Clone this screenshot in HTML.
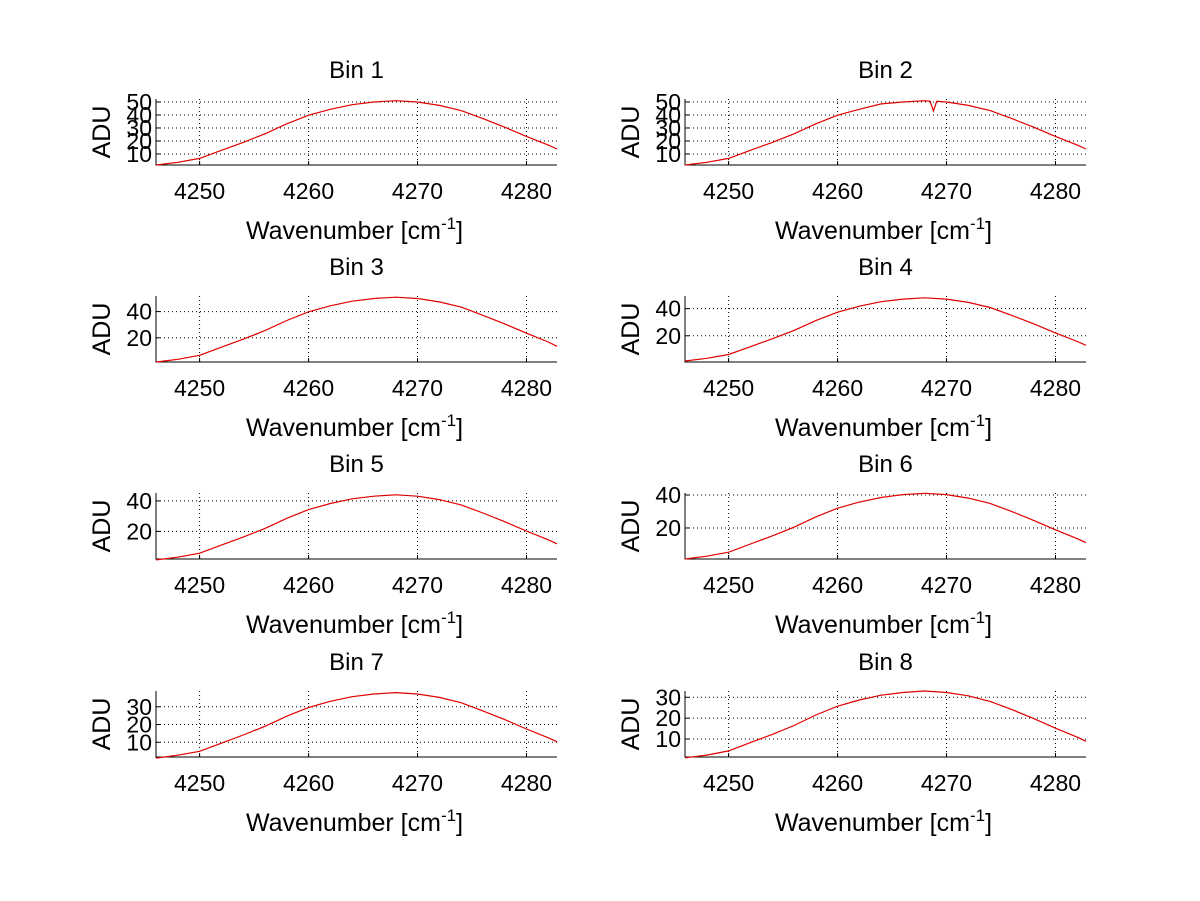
<!DOCTYPE html>
<html><head><meta charset="utf-8"><style>
body{margin:0;background:#fff}
svg{display:block;font-family:"Liberation Sans",sans-serif}
</style></head><body>
<svg id="fig" width="1200" height="901" viewBox="0 0 1200 901"></svg>
<script>
const xs=[4246,4248,4250,4252,4254,4256,4258,4260,4262,4264,4266,4268,4270,4272,4274,4276,4278,4280,4282,4282.8];
const xsBin2=[4246,4248,4250,4252,4254,4256,4258,4260,4262,4264,4266,4268,4268.5,4268.8,4269.1,4270,4272,4274,4276,4278,4280,4282,4282.8];
const bin1=[1.5,3.6,6.6,12.8,18.9,25.5,33.2,39.8,44.4,47.9,50,51,50,47.4,43.4,37.2,30.6,23.5,16.8,13.8];
const bin2=[1.5,3.6,6.6,12.8,18.9,25.5,33.2,39.8,44.4,48.5,50,51,50.5,43,50.5,50,47.4,43.4,37.2,30.6,23.5,16.8,13.8];
const bin3=[1.5,3.6,6.6,12.8,18.9,25.5,33.2,39.8,44.4,47.9,50,51,50,47.4,43.4,37.2,30.6,23.5,16.8,13.5];
const bin4=[1.4,3.4,6.2,12,17.8,24,31.2,37.4,41.8,45.1,47,48,47,44.6,40.8,35,28.8,22.1,15.8,13];
const bin5=[1.3,3.1,5.7,11,16.3,22,28.6,34.3,38.3,41.4,43.1,44,43.1,40.9,37.4,32.1,26.4,20.2,14.5,11.9];
const bin6=[1.2,2.9,5.3,10.3,15.2,20.5,26.7,32,35.7,38.5,40.2,41,40.2,38.1,34.9,29.9,24.6,18.9,13.5,11.1];
const bin7=[1.1,2.7,4.9,9.5,14.1,19,24.7,29.6,33.1,35.7,37.2,38,37.2,35.3,32.3,27.7,22.8,17.5,12.5,10.3];
const bin8=[1,2.3,4.3,8.3,12.2,16.5,21.5,25.7,28.7,31,32.3,33,32.3,30.7,28,24.1,19.8,15.2,10.9,8.9];
const xTicks=[4250,4260,4270,4280];
const yTicks50=[10,20,30,40,50];
const yTicks40=[20,40];
const yTicks30=[10,20,30];
const yRanges=[[1.5,52.3],[1.5,52.3],[1.5,51.9],[0.7,49.3],[1.9,45.2],[1.2,41.2],[1.7,38.9],[1.4,33]];
const xRange=[4246,4282.8];

const NS="http://www.w3.org/2000/svg";
const svg=document.getElementById('fig');
function el(tag,attrs,parent){const e=document.createElementNS(NS,tag);for(const k in attrs)e.setAttribute(k,attrs[k]);(parent||svg).appendChild(e);return e;}
const panels=[
 {title:"Bin 1",x:xs,y:bin1,t:yTicks50,col:0,row:0},
 {title:"Bin 2",x:xsBin2,y:bin2,t:yTicks50,col:1,row:0},
 {title:"Bin 3",x:xs,y:bin3,t:yTicks40,col:0,row:1},
 {title:"Bin 4",x:xs,y:bin4,t:yTicks40,col:1,row:1},
 {title:"Bin 5",x:xs,y:bin5,t:yTicks40,col:0,row:2},
 {title:"Bin 6",x:xs,y:bin6,t:yTicks40,col:1,row:2},
 {title:"Bin 7",x:xs,y:bin7,t:yTicks30,col:0,row:3},
 {title:"Bin 8",x:xs,y:bin8,t:yTicks30,col:1,row:3}
];
const lefts=[156,685], W=401, tops=[99,296,493,691], H=66;
panels.forEach((p,i)=>{
 const L=lefts[p.col],T=tops[p.row],B=T+H,R=L+W;
 const yr=yRanges[i];
 const sx=v=>L+(v-xRange[0])/(xRange[1]-xRange[0])*W;
 const sy=v=>B-(v-yr[0])/(yr[1]-yr[0])*H;
 const g=el('g',{});
 
 
 xTicks.forEach(v=>{const l=el('line',{x1:sx(v),x2:sx(v),y1:T,y2:B,stroke:'#000','stroke-width':1,'stroke-dasharray':'1,3'},g);
  
  el('line',{x1:sx(v),x2:sx(v),y1:B,y2:B-4,stroke:'#000'},g);
  const t=el('text',{x:sx(v),y:B+34,'font-size':23,'text-anchor':'middle'},g);t.textContent=v;
  });
 p.t.forEach(v=>{const l=el('line',{x1:L,x2:R,y1:sy(v),y2:sy(v),stroke:'#000','stroke-width':1,'stroke-dasharray':'1,3'},g);
  
  el('line',{x1:L,x2:L+4,y1:sy(v),y2:sy(v),stroke:'#000'},g);
  const t=el('text',{x:L-4,y:sy(v)+8,'font-size':23,'text-anchor':'end'},g);t.textContent=v;
  });
 const ax=el('path',{d:`M${L},${T}V${B}H${R}`,fill:'none',stroke:'#000','stroke-width':1},g);
 
 const pts=p.x.map((v,k)=>sx(v).toFixed(1)+','+sy(p.y[k]).toFixed(1)).join(' ');
 const pl=el('polyline',{points:pts,fill:'none',stroke:'#e00000','stroke-width':1.2},g);
 
 const tt=el('text',{x:L+W/2,y:T-21,'font-size':24,'text-anchor':'middle'},g);tt.textContent=p.title;
 
 const xl=el('text',{x:L+W/2-2,y:B+74,'font-size':25,'text-anchor':'middle'},g);
 xl.innerHTML='Wavenumber [cm<tspan dy="-10" font-size="17">-1</tspan><tspan dy="10">]</tspan>';
 
 const yl=el('text',{x:0,y:0,'font-size':25,'text-anchor':'middle',transform:`translate(${L-46},${T+H/2}) rotate(-90)`},g);yl.textContent='ADU';
 
});
</script>
</body></html>
